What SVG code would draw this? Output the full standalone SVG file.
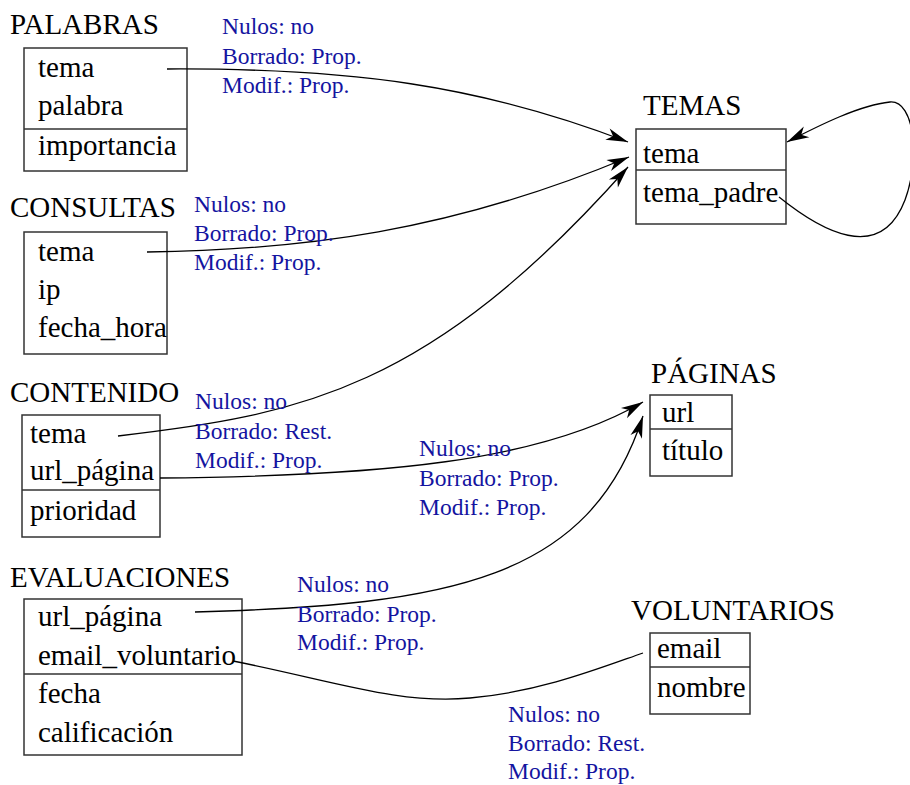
<svg xmlns="http://www.w3.org/2000/svg" width="910" height="785" viewBox="0 0 910 785">
<style>
.t{font-family:"Liberation Serif","Times New Roman",serif;font-size:29px;fill:#000}
.l{font-family:"Liberation Serif","Times New Roman",serif;font-size:23.5px;fill:#1414a0}
.b{fill:none;stroke:#333;stroke-width:1.5}
.c{fill:none;stroke:#000;stroke-width:1.3}
</style>
<defs>
<marker id="ah" markerUnits="userSpaceOnUse" markerWidth="30" markerHeight="20" refX="0" refY="0" viewBox="-24 -10 30 20" orient="auto">
<path d="M0,0 L-22,-6 L-16,0 L-22,6 z" fill="#000"/>
</marker>
</defs>
<g id="palabras">
<text class="t" x="10" y="34">PALABRAS</text>
<rect class="b" x="24" y="48" width="163" height="123"/>
<line class="b" x1="24" y1="129" x2="187" y2="129"/>
<text class="t" x="38" y="77">tema</text>
<text class="t" x="38" y="115">palabra</text>
<text class="t" x="38" y="155">importancia</text>
</g>
<g id="consultas">
<text class="t" x="10" y="217">CONSULTAS</text>
<rect class="b" x="24" y="232" width="143" height="122"/>
<text class="t" x="38" y="261">tema</text>
<text class="t" x="38" y="299">ip</text>
<text class="t" x="38" y="337">fecha_hora</text>
</g>
<g id="contenido">
<text class="t" x="10" y="402">CONTENIDO</text>
<rect class="b" x="22" y="415" width="138" height="122"/>
<line class="b" x1="22" y1="490" x2="160" y2="490"/>
<text class="t" x="30" y="443">tema</text>
<text class="t" x="30" y="480">url_página</text>
<text class="t" x="30" y="520">prioridad</text>
</g>
<g id="evaluaciones">
<text class="t" x="10" y="587">EVALUACIONES</text>
<rect class="b" x="24" y="599" width="218" height="156"/>
<line class="b" x1="24" y1="674" x2="242" y2="674"/>
<text class="t" x="38" y="626">url_página</text>
<text class="t" x="38" y="665">email_voluntario</text>
<text class="t" x="38" y="703">fecha</text>
<text class="t" x="38" y="742">calificación</text>
</g>
<g id="temas">
<text class="t" x="643" y="115">TEMAS</text>
<rect class="b" x="636" y="129" width="150" height="95"/>
<line class="b" x1="636" y1="170" x2="786" y2="170"/>
<text class="t" x="643" y="163">tema</text>
<text class="t" x="643" y="202">tema_padre</text>
</g>
<g id="paginas">
<text class="t" x="651" y="383">PÁGINAS</text>
<rect class="b" x="650" y="395" width="82" height="81"/>
<line class="b" x1="650" y1="429" x2="732" y2="429"/>
<text class="t" x="662" y="422">url</text>
<text class="t" x="662" y="460">título</text>
</g>
<g id="voluntarios">
<text class="t" x="631" y="620">VOLUNTARIOS</text>
<rect class="b" x="650" y="633" width="100" height="81"/>
<line class="b" x1="650" y1="667" x2="750" y2="667"/>
<text class="t" x="657" y="658">email</text>
<text class="t" x="657" y="697">nombre</text>
</g>
<g id="connectors">
<path class="c" d="M167,69 C350,68 480,85 628,142" marker-end="url(#ah)"/>
<path class="c" d="M147,252 C300,250 450,232 629,157" marker-end="url(#ah)"/>
<path class="c" d="M118,436 C300,415 430,390 628,167" marker-end="url(#ah)"/>
<path class="c" d="M160,478 C380,476 540,462 643,402" marker-end="url(#ah)"/>
<path class="c" d="M195,612 C450,605 590,580 643,416" marker-end="url(#ah)"/>
<path class="c" d="M233,661 C330,680 400,705 470,698 C540,692 600,668 643,653"/>
<path class="c" d="M779,197 C820,230 880,265 905,200 C920,160 915,100 890,102 C860,105 820,125 787,142" marker-end="url(#ah)"/>
</g>
<g id="labels">
<text class="l" x="222" y="34">Nulos: no</text>
<text class="l" x="222" y="64">Borrado: Prop.</text>
<text class="l" x="222" y="93">Modif.: Prop.</text>
<text class="l" x="194" y="212">Nulos: no</text>
<text class="l" x="194" y="241">Borrado: Prop.</text>
<text class="l" x="194" y="270">Modif.: Prop.</text>
<text class="l" x="195" y="409">Nulos: no</text>
<text class="l" x="195" y="439">Borrado: Rest.</text>
<text class="l" x="195" y="468">Modif.: Prop.</text>
<text class="l" x="419" y="456">Nulos: no</text>
<text class="l" x="419" y="486">Borrado: Prop.</text>
<text class="l" x="419" y="515">Modif.: Prop.</text>
<text class="l" x="297" y="592">Nulos: no</text>
<text class="l" x="297" y="622">Borrado: Prop.</text>
<text class="l" x="297" y="650">Modif.: Prop.</text>
<text class="l" x="508" y="722">Nulos: no</text>
<text class="l" x="508" y="751">Borrado: Rest.</text>
<text class="l" x="508" y="779">Modif.: Prop.</text>
</g>
</svg>
